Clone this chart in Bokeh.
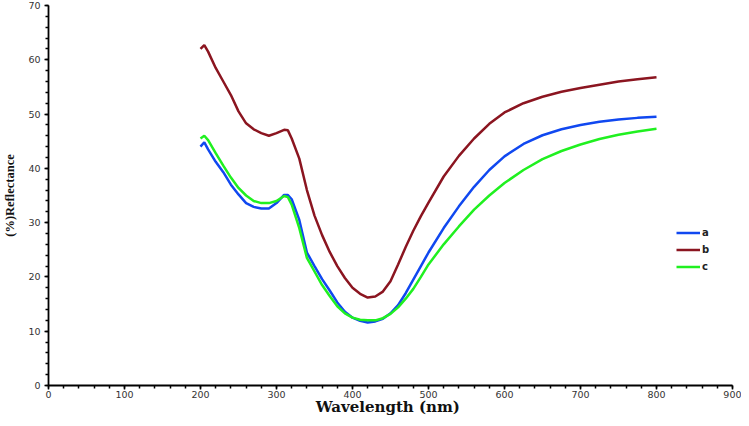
from bokeh.plotting import figure
from bokeh.models import Range1d, Legend, LegendItem, SingleIntervalTicker
from bokeh.embed import file_html
from bokeh.resources import INLINE

wavelength = [200, 205, 210, 220, 230, 240, 250, 260, 270, 280, 290, 300, 310, 315, 320,
              330, 340, 350, 360, 370, 380, 390, 400, 410, 420, 430, 440, 450, 460, 470,
              480, 490, 500, 520, 540, 560, 580, 600, 625, 650, 675, 700, 725, 750, 775, 800]

refl_a = [44.0, 44.8, 43.5, 41.2, 39.3, 37.0, 35.2, 33.6, 32.9, 32.6, 32.6, 33.6, 35.1, 35.1, 34.3,
          30.5, 24.5, 22.0, 19.6, 17.5, 15.3, 13.6, 12.5, 11.9, 11.6, 11.8, 12.3, 13.3, 14.8, 17.0,
          19.5, 22.0, 24.5, 29.0, 33.0, 36.6, 39.7, 42.2, 44.5, 46.1, 47.2, 48.0, 48.6, 49.0, 49.3, 49.5]

refl_b = [62.0, 62.7, 61.5, 58.5, 56.0, 53.5, 50.5, 48.3, 47.2, 46.5, 46.0, 46.5, 47.1, 47.0, 45.5,
          41.8, 36.0, 31.3, 27.7, 24.6, 22.0, 19.8, 18.0, 16.9, 16.2, 16.4, 17.3, 19.2, 22.3, 25.5,
          28.5, 31.2, 33.7, 38.5, 42.3, 45.5, 48.2, 50.3, 52.0, 53.2, 54.1, 54.8, 55.4, 56.0, 56.4, 56.8]

refl_c = [45.5, 46.0, 45.2, 42.8, 40.5, 38.3, 36.4, 35.0, 34.0, 33.6, 33.6, 34.0, 34.9, 34.7, 33.3,
          29.0, 23.5, 21.0, 18.5, 16.5, 14.6, 13.3, 12.5, 12.1, 12.0, 12.0, 12.4, 13.2, 14.4, 16.0,
          17.8, 20.0, 22.3, 26.0, 29.3, 32.4, 35.0, 37.3, 39.7, 41.7, 43.2, 44.4, 45.4, 46.2, 46.8, 47.3]

series_names = ["a", "b", "c"]
series_colors = ["#1048F0", "#8B1520", "#20F020"]

p = figure(width=741, height=418, output_backend="svg", toolbar_location=None,
           x_range=Range1d(0, 900), y_range=Range1d(0, 70),
           min_border_left=47, min_border_right=9, min_border_top=5, min_border_bottom=28)
p.outline_line_color = None
p.xgrid.visible = False
p.ygrid.visible = False
p.background_fill_color = "white"

items = []
for name, ys, col in zip(series_names, [refl_a, refl_b, refl_c], series_colors):
    r = p.line(wavelength, ys, line_color=col, line_width=2.5)
    items.append(LegendItem(label=name, renderers=[r]))

legend = Legend(items=items, location=(628, 110), border_line_color=None,
                background_fill_alpha=0, padding=0, margin=0, spacing=0,
                glyph_width=24, glyph_height=17, label_height=17, label_standoff=2,
                label_text_font="DejaVu Sans", label_text_font_style="bold",
                label_text_font_size="10px", label_text_color="#222222")
p.add_layout(legend, "center")

p.xaxis.ticker = SingleIntervalTicker(interval=100, num_minor_ticks=5)
p.yaxis.ticker = SingleIntervalTicker(interval=10, num_minor_ticks=5)

for ax in (p.xaxis[0], p.yaxis[0]):
    ax.axis_line_color = "black"
    ax.axis_line_width = 1.8
    ax.major_tick_line_color = "black"
    ax.minor_tick_line_color = "black"
    ax.major_tick_line_width = 1.5
    ax.minor_tick_line_width = 1.5
    ax.major_tick_in = 0
    ax.major_tick_out = 4
    ax.minor_tick_in = 0
    ax.minor_tick_out = 3
    ax.major_label_text_font = "DejaVu Sans"
    ax.major_label_text_font_size = "9.5px"
    ax.major_label_text_color = "#333333"

p.xaxis.major_label_standoff = 1
p.yaxis.major_label_standoff = 4

p.xaxis.axis_label = "Wavelength  (nm)"
p.xaxis.axis_label_text_font = "DejaVu Serif"
p.xaxis.axis_label_text_font_style = "bold"
p.xaxis.axis_label_text_font_size = "15px"
p.xaxis.axis_label_text_color = "#111111"
p.xaxis.axis_label_standoff = -3

p.yaxis.axis_label = "(%)Reflectance"
p.yaxis.axis_label_text_font = "Liberation Serif"
p.yaxis.axis_label_text_font_style = "bold"
p.yaxis.axis_label_text_font_size = "12.5px"
p.yaxis.axis_label_text_color = "#111111"
p.yaxis.axis_label_standoff = 8

open("out.html", "w").write(file_html(p, INLINE))
